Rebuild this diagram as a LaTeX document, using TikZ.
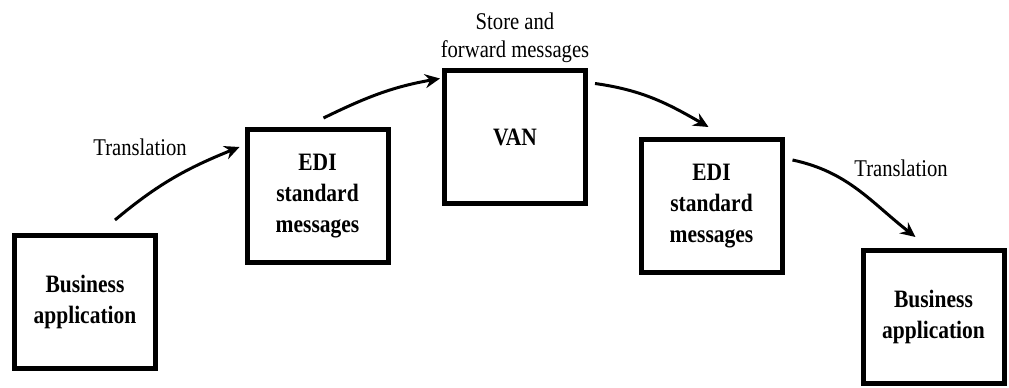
\documentclass[tikz,border=0pt]{standalone}
\usepackage{fontspec}
\setmainfont{Liberation Serif}[FakeStretch=0.86]
\usetikzlibrary{arrows.meta,positioning}

\begin{document}
\begin{tikzpicture}[x=1pt,y=1pt,>={Stealth[length=15pt,width=14pt,inset=5pt]},
  blk/.style={draw,line width=5pt,minimum width=141pt,minimum height=133pt,align=center,
    font=\fontsize{25}{31}\selectfont\bfseries},
  lbl/.style={align=center,font=\fontsize{24}{28}\selectfont},
  arr/.style={->,line width=3pt}]
\useasboundingbox (0,0) rectangle (1009,388);
\foreach \name/\px/\py/\txt in {
b1/85/86/{Business\\application},
b2/317.5/192/{EDI\\standard\\messages},
b3/515/250.5/{VAN},
b4/711.5/182/{EDI\\standard\\messages},
b5/933.5/71/{Business\\application}}
{
  \node[blk] (\name) at (\px,\py) {\txt};
}
% labels
\node[lbl] (t1) at (140,241) {Translation};
\node[lbl] (t2) at (901,220) {Translation};
\node[lbl,above=2pt of b3] (sf) {Store and\\forward messages};
% arrows
\draw[arr] ([shift={(-43,13)}]b1.north east) to[out=40,in=202] ([shift={(-5,-20)}]b2.north west);
\draw[arr] ([shift={(-67,9)}]b2.north east) to[out=26,in=190] ([shift={(-2,-10)}]b3.north west);
\draw[arr] ([shift={(7,-15)}]b3.north east) to[out=-8,in=150] ([shift={(70,10)}]b4.north west);
\draw[arr] ([shift={(8,-23)}]b4.north east) to[out=-12,in=142] ([shift={(55,11)}]b5.north west);
\end{tikzpicture}
\end{document}
